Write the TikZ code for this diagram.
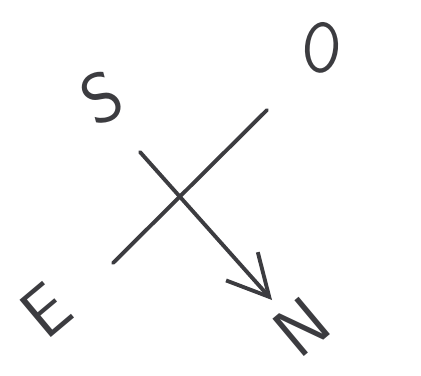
\documentclass[tikz,border=0pt]{standalone}
\usetikzlibrary{arrows.meta}
\definecolor{inkgray}{HTML}{3C3C40}
\begin{document}
\begin{tikzpicture}[
    x=0.02cm, y=-0.02cm, % pixel-like units, y downwards
    ink/.style={draw=inkgray, line width=2.2pt, line cap=round},
    letter/.style={text=inkgray, font=\sffamily\fontsize{40}{46}\selectfont, inner sep=0pt},
    arrow/.style={-{Straight Barb[length=0.82cm, width=0.85cm, line width=2.2pt]}}
]
\useasboundingbox (0,0) rectangle (421,375);

% compass letters
\node[letter, rotate=25] (S) at (102,98) {S};
\node[letter, rotate=-5, xscale=0.8] (O) at (322,48) {O};
\node[letter, rotate=40] (E) at (46,310) {E};
\node[letter, rotate=40] (N) at (302,327) {N};

% line ends
\coordinate (sw) at (113,263);
\coordinate (ne) at (267,110);
\coordinate (nw) at (140,152);
\coordinate (se) at (272,300);

% cross
\draw[ink] (sw) -- (ne);
\draw[ink, arrow] (nw) -- (se);
\end{tikzpicture}
\end{document}
